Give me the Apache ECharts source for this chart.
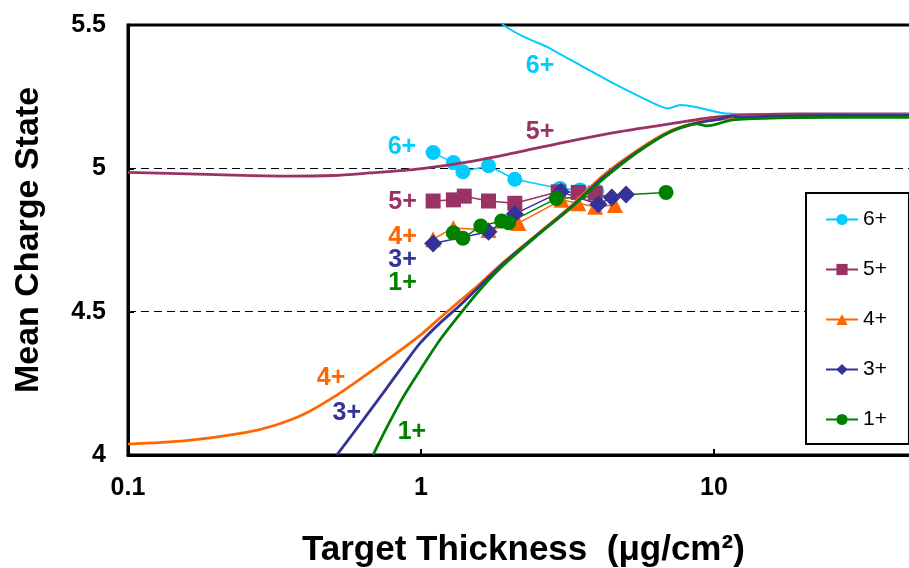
<!DOCTYPE html>
<html>
<head>
<meta charset="utf-8">
<script src="https://cdn.jsdelivr.net/npm/echarts@6/dist/echarts.min.js"></script>
<style>
  html, body { margin: 0; padding: 0; background: #fff; }
  #chart { width: 909px; height: 568px; }
</style>
</head>
<body>
<div id="chart"></div>
<script>
// ---------- data ----------
const xTicks = [0.1, 1, 10];
const xMaxValue = 50;
const yTicks = [4, 4.5, 5, 5.5];

const seriesNames = ['6+', '5+', '4+', '3+', '1+'];

// measured points (x = thickness, y = mean charge state)
const meas6x = [1.10, 1.29, 1.39, 1.70, 2.09, 2.98, 3.49, 3.98];
const meas6y = [5.055, 5.020, 4.988, 5.009, 4.962, 4.930, 4.924, 4.921];
const meas5x = [1.10, 1.29, 1.405, 1.70, 2.09, 2.94, 3.44, 3.93];
const meas5y = [4.886, 4.890, 4.903, 4.886, 4.878, 4.918, 4.916, 4.913];
const meas4x = [1.10, 1.29, 1.70, 2.15, 3.02, 3.44, 3.93, 4.59];
const meas4y = [4.753, 4.792, 4.785, 4.809, 4.890, 4.878, 4.866, 4.872];
const meas3x = [1.10, 1.70, 2.09, 3.00, 4.03, 4.48, 5.01];
const meas3y = [4.738, 4.779, 4.841, 4.918, 4.875, 4.898, 4.909];
const meas1x = [1.29, 1.39, 1.60, 1.885, 1.99, 2.90, 6.86];
const meas1y = [4.775, 4.756, 4.799, 4.816, 4.810, 4.895, 4.916];

// calculated curves
const calc6x = [1.85, 1.91, 2.21, 2.45, 2.69, 3.49, 4.52, 5.58, 6.54, 6.98, 7.66, 8.73, 10.47, 11.6, 16, 25, 50];
const calc6y = [5.52, 5.5, 5.462, 5.442, 5.424, 5.360, 5.297, 5.250, 5.217, 5.209, 5.221, 5.213, 5.194, 5.190, 5.189, 5.189, 5.189];
const calc5x = [0.1, 0.2, 0.35, 0.5, 0.67, 0.99, 1.47, 2.18, 3.23, 4.78, 7.08, 10.5, 19.5, 50];
const calc5y = [4.986, 4.978, 4.973, 4.975, 4.984, 4.998, 5.023, 5.058, 5.095, 5.128, 5.155, 5.180, 5.190, 5.190];
const calc4x = [0.1, 0.158, 0.251, 0.316, 0.398, 0.5, 0.63, 0.794, 1.0, 1.16, 1.35, 1.6, 1.91, 2.49, 3.23, 4.18, 5.46, 7.08, 8.95, 10.5, 13, 20, 50];
const calc4y = [4.038, 4.050, 4.078, 4.103, 4.142, 4.200, 4.270, 4.343, 4.420, 4.478, 4.535, 4.600, 4.672, 4.770, 4.866, 4.975, 5.062, 5.130, 5.162, 5.172, 5.180, 5.185, 5.186];
const calc3x = [0.516, 0.586, 0.67, 0.766, 0.869, 0.993, 1.16, 1.35, 1.6, 1.91, 2.49, 3.23, 4.18, 5.46, 7.08, 8.95, 10.5, 11.6, 12.2, 16, 25, 50];
const calc3y = [4.0, 4.075, 4.155, 4.235, 4.312, 4.390, 4.460, 4.520, 4.593, 4.668, 4.767, 4.862, 4.968, 5.057, 5.127, 5.160, 5.172, 5.183, 5.178, 5.183, 5.185, 5.185];
const calc1x = [0.686, 0.766, 0.869, 0.993, 1.16, 1.38, 1.6, 1.91, 2.49, 3.23, 4.18, 5.46, 7.08, 8.75, 9.46, 11.6, 16.8, 25, 50];
const calc1y = [4.0, 4.098, 4.202, 4.296, 4.401, 4.500, 4.580, 4.662, 4.765, 4.860, 4.962, 5.055, 5.127, 5.155, 5.148, 5.169, 5.176, 5.178, 5.178];

// in-plot labels
const annoText = ['6+', '5+', '6+', '5+', '4+', '3+', '1+', '4+', '3+', '1+'];
const annoX = [2.55, 2.55, 0.861, 0.865, 0.865, 0.865, 0.865, 0.493, 0.558, 0.931];
const annoY = [5.357, 5.127, 5.074, 4.883, 4.760, 4.680, 4.600, 4.269, 4.147, 4.080];

// ---------- styling ----------
const colors = { '6+': '#00CCFF', '5+': '#993366', '4+': '#FF6600', '3+': '#333399', '1+': '#008000' };
const symbols = { '6+': 'circle', '5+': 'rect', '4+': 'triangle', '3+': 'diamond', '1+': 'circle' };
const symbolSizes = { '6+': 15, '5+': 15, '4+': 16, '3+': 18, '1+': 15 };
const FONT = 'Arial, "Liberation Sans", sans-serif';

const zip = (xs, ys) => xs.map((x, i) => [x, ys[i]]);
const meas = { '6+': zip(meas6x, meas6y), '5+': zip(meas5x, meas5y), '4+': zip(meas4x, meas4y), '3+': zip(meas3x, meas3y), '1+': zip(meas1x, meas1y) };
const calc = { '6+': zip(calc6x, calc6y), '5+': zip(calc5x, calc5y), '4+': zip(calc4x, calc4y), '3+': zip(calc3x, calc3y), '1+': zip(calc1x, calc1y) };

const series = [];
seriesNames.forEach(n => {
  series.push({
    name: n, type: 'line', data: meas[n], symbol: symbols[n], symbolSize: symbolSizes[n],
    showAllSymbol: true, z: 2,
    itemStyle: { color: colors[n] },
    lineStyle: { color: colors[n], width: 1.5 },
    emphasis: { disabled: true }, animation: false
  });
});
['6+', '5+', '4+', '3+', '1+'].forEach(n => {
  series.push({
    name: 'calc' + n, type: 'line', data: calc[n], symbol: 'none', clip: true,
    smooth: n === '6+' ? 0.15 : 0.3, z: 3,
    lineStyle: { color: colors[n], width: n === '6+' ? 2 : 2.8 },
    emphasis: { disabled: true }, animation: false
  });
});

const chart = echarts.init(document.getElementById('chart'), null, { renderer: 'canvas' });
chart.setOption({
  animation: false,
  backgroundColor: '#fff',
  grid: { left: 128, top: 25, width: 293 * Math.log10(xMaxValue / xTicks[0]), bottom: 113,
          outerBoundsMode: 'none', containLabel: false,
          show: true, borderColor: '#000', borderWidth: 3, backgroundColor: 'transparent' },
  legend: {
    data: seriesNames, orient: 'vertical', left: 806, top: 193,
    itemWidth: 32, itemHeight: 14, itemGap: 29,
    padding: [16, 22, 14, 19],
    borderColor: '#000', borderWidth: 2, backgroundColor: '#fff',
    textStyle: { fontSize: 21, color: '#000', fontFamily: FONT, lineHeight: 21 },
    selectedMode: false
  },
  xAxis: {
    type: 'log', logBase: 10, min: xTicks[0], max: xMaxValue,
    name: 'Target Thickness  (\u03bcg/cm\u00b2)', nameLocation: 'middle', nameGap: 78,
    nameTextStyle: { fontSize: 35, fontWeight: 'bold', color: '#000', fontFamily: FONT },
    axisLine: { lineStyle: { color: '#000', width: 3 } },
    axisTick: { inside: true, length: 6, lineStyle: { color: '#000', width: 2 } },
    axisLabel: { fontSize: 25, fontWeight: 'bold', color: '#000', margin: 21, fontFamily: FONT, showMaxLabel: false,
                 formatter: v => String(+v.toPrecision(3)) },
    splitLine: { show: false }, minorTick: { show: false }
  },
  yAxis: {
    type: 'value', min: yTicks[0], max: yTicks[yTicks.length - 1], interval: yTicks[1] - yTicks[0],
    name: 'Mean Charge State', nameLocation: 'middle', nameGap: 82,
    nameTextStyle: { fontSize: 34, fontWeight: 'bold', color: '#000', fontFamily: FONT },
    axisLine: { show: true, lineStyle: { color: '#000', width: 3 } },
    axisTick: { show: true, inside: true, length: 6, lineStyle: { color: '#000', width: 2 } },
    axisLabel: { fontSize: 25, fontWeight: 'bold', color: '#000', margin: 22, fontFamily: FONT },
    splitLine: { show: true, lineStyle: { color: '#000', width: 1, type: [8, 5] } }
  },
  series: series
});

// in-plot labels, placed through the chart's own coordinate conversion
const graphics = annoText.map((t, i) => {
  const p = chart.convertToPixel({ gridIndex: 0 }, [annoX[i], annoY[i]]);
  return {
    type: 'text', x: p[0], y: p[1], z: 100, silent: true,
    style: { text: t, fill: colors[t], font: 'bold 25px ' + FONT, align: 'center', verticalAlign: 'middle' }
  };
});
chart.setOption({ graphic: graphics });
</script>
</body>
</html>
